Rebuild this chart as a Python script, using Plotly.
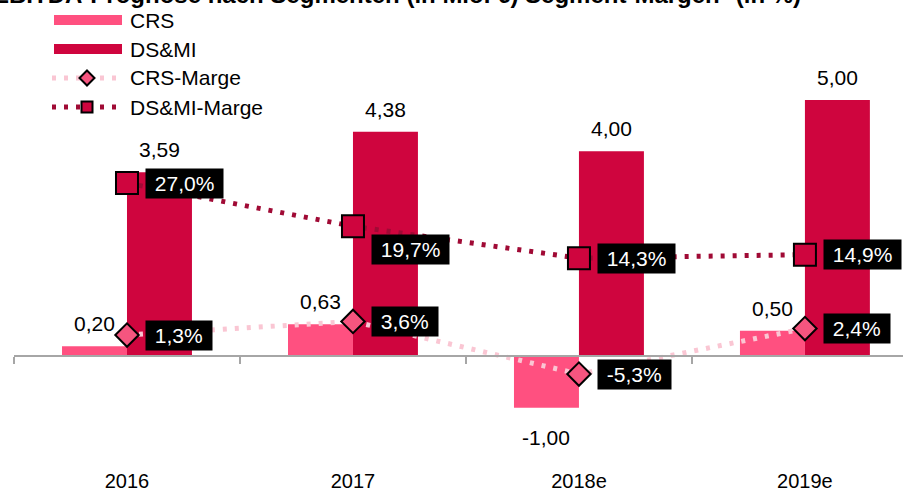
import plotly.graph_objects as go

# ---------------- data ----------------
categories = ["2016", "2017", "2018e", "2019e"]
crs_ebitda = [0.20, 0.63, -1.00, 0.50]
dsmi_ebitda = [3.59, 4.38, 4.00, 5.00]
crs_margin = [1.3, 3.6, -5.3, 2.4]
dsmi_margin = [27.0, 19.7, 14.3, 14.9]
series_names = ["CRS", "DS&MI", "CRS-Marge", "DS&MI-Marge"]
title_text = "EBITDA-Prognose nach Segmenten (in Mio. €) Segment-Margen* (in %)"

# ---------------- styles / layout ----------------
C_CRS = "#FF5080"
C_DS = "#CF053E"
C_CRS_LINE = "#FAC6D3"
C_DS_LINE = "#A00A35"
C_CRS_MK = "#F5557F"
FONT = "Liberation Sans, Arial, sans-serif"
FS = 21
FS_TICK = 20

W, H = 903, 495
L, R, T, B = 14, 903, 10, 467
Y1 = [-2.154, 6.754]
Y2 = [-21.03, 56.29]
XR = [-0.5, 3.434]
BARGAP = 0.425
ds_label_dy = [0, -23, 0, 0]  # vertical offsets of margin boxes (px)
DASH = "4px,8px"

x = list(range(len(categories)))
half = (1 - BARGAP) / 4


def fx(px):
    return (px - L) / (R - L)


def fy(py):
    return (B - py) / (B - T)


fig = go.Figure()
fig.add_trace(go.Bar(x=x, y=crs_ebitda, name=series_names[0], marker_color=C_CRS,
                     marker_line_width=0, showlegend=False))
fig.add_trace(go.Bar(x=x, y=dsmi_ebitda, name=series_names[1], marker_color=C_DS,
                     marker_line_width=0, showlegend=False))
fig.add_trace(go.Scatter(x=x, y=crs_margin, name=series_names[2], yaxis="y2", mode="lines+markers",
                         line=dict(color=C_CRS_LINE, width=5, dash=DASH),
                         marker=dict(symbol="diamond", size=18, color=C_CRS_MK,
                                     line=dict(color="black", width=2)),
                         showlegend=False))
fig.add_trace(go.Scatter(x=x, y=dsmi_margin, name=series_names[3], yaxis="y2", mode="lines+markers",
                         line=dict(color=C_DS_LINE, width=5, dash=DASH),
                         marker=dict(symbol="square", size=22, color=C_DS,
                                     line=dict(color="black", width=2)),
                         showlegend=False))
# dummy trace to register the axis line subplot
fig.add_trace(go.Scatter(x=[None], y=[None], xaxis="x2", yaxis="y", showlegend=False,
                         hoverinfo="skip", mode="markers"))

annotations = []
# value labels on bars
for i, v in enumerate(crs_ebitda):
    annotations.append(dict(x=i - half, y=v, xref="x", yref="y",
                            text=f"{v:.2f}".replace(".", ","), showarrow=False,
                            yanchor="bottom" if v >= 0 else "top",
                            yshift=9 if v >= 0 else -16,
                            font=dict(size=FS, color="black")))
for i, v in enumerate(dsmi_ebitda):
    annotations.append(dict(x=i + half, y=v, xref="x", yref="y",
                            text=f"{v:.2f}".replace(".", ","), showarrow=False,
                            yanchor="bottom" if v >= 0 else "top",
                            yshift=9 if v >= 0 else -16,
                            font=dict(size=FS, color="black")))
# margin labels
NB = "\u00a0"
for vals, dys in ((crs_margin, [0] * len(crs_margin)), (dsmi_margin, ds_label_dy)):
    for i, v in enumerate(vals):
        annotations.append(dict(x=i, y=v, xref="x", yref="y2",
                                text=NB + f"{v:.1f}%".replace(".", ",") + NB,
                                showarrow=False, xanchor="left", yanchor="middle",
                                xshift=18, yshift=dys[i], bgcolor="black",
                                borderpad=3, font=dict(size=FS, color="white")))
# title (cut at top, as in the source)
annotations.append(dict(x=fx(803), y=fy(10), xref="paper", yref="paper", text="<b>" + title_text + "</b>",
                        showarrow=False, xanchor="right", yanchor="bottom",
                        font=dict(size=24, color="black")))

# custom legend
shapes = []
rows = [20, 49, 78, 107]
for name, ry in zip(series_names, rows):
    annotations.append(dict(x=fx(128), y=fy(ry), xref="paper", yref="paper", text=name,
                            showarrow=False, xanchor="left", yanchor="middle",
                            font=dict(size=FS, color="black")))
shapes.append(dict(type="rect", xref="paper", yref="paper", x0=fx(54), x1=fx(122),
                   y0=fy(rows[0] - 5), y1=fy(rows[0] + 5), fillcolor=C_CRS, line_width=0))
shapes.append(dict(type="rect", xref="paper", yref="paper", x0=fx(54), x1=fx(122),
                   y0=fy(rows[1] - 5), y1=fy(rows[1] + 5), fillcolor=C_DS, line_width=0))
for ry, col in ((rows[2], C_CRS_LINE), (rows[3], C_DS_LINE)):
    shapes.append(dict(type="line", xref="paper", yref="paper", x0=fx(52), x1=fx(124),
                       y0=fy(ry), y1=fy(ry), line=dict(color=col, width=5, dash=DASH)))
cx, cy, d = 87, rows[2], 7.5
shapes.append(dict(type="path", xref="paper", yref="paper",
                   path=f"M {fx(cx)} {fy(cy - d)} L {fx(cx + d)} {fy(cy)} L {fx(cx)} {fy(cy + d)} L {fx(cx - d)} {fy(cy)} Z",
                   fillcolor=C_CRS_MK, line=dict(color="black", width=2)))
cy, s = rows[3], 5.5
shapes.append(dict(type="rect", xref="paper", yref="paper", x0=fx(cx - s), x1=fx(cx + s),
                   y0=fy(cy + s), y1=fy(cy - s), fillcolor=C_DS, line=dict(color="black", width=2)))

pos0 = (0 - Y1[0]) / (Y1[1] - Y1[0])

fig.update_layout(
    width=W, height=H,
    margin=dict(l=L, r=W - R, t=T, b=H - B, pad=0, autoexpand=False),
    paper_bgcolor="white", plot_bgcolor="white",
    font=dict(family=FONT, size=FS, color="black"),
    barmode="group", bargap=BARGAP, bargroupgap=0,
    showlegend=False,
    xaxis=dict(range=XR, tickmode="array", tickvals=x, ticktext=categories,
               showgrid=False, zeroline=False, showline=False, ticks="",
               automargin=False,
               tickfont=dict(size=FS_TICK, color="black")),
    xaxis2=dict(range=XR, overlaying="x", anchor="free", position=pos0,
                tickmode="array", tickvals=[i - 0.5 for i in range(len(categories) + 1)],
                ticks="outside", ticklen=7, tickwidth=2, tickcolor="#A6A6A6",
                showline=True, linecolor="#A6A6A6", linewidth=2, automargin=False,
                showticklabels=False, showgrid=False, zeroline=False),
    yaxis=dict(range=Y1, visible=False, showgrid=False, zeroline=False, automargin=False),
    yaxis2=dict(range=Y2, overlaying="y", visible=False, showgrid=False, zeroline=False,
                automargin=False),
    annotations=annotations,
    shapes=shapes,
)

fig.write_html("out.html", config={"displayModeBar": False},
               post_script="document.body.style.margin='0';document.body.style.padding='0';")
